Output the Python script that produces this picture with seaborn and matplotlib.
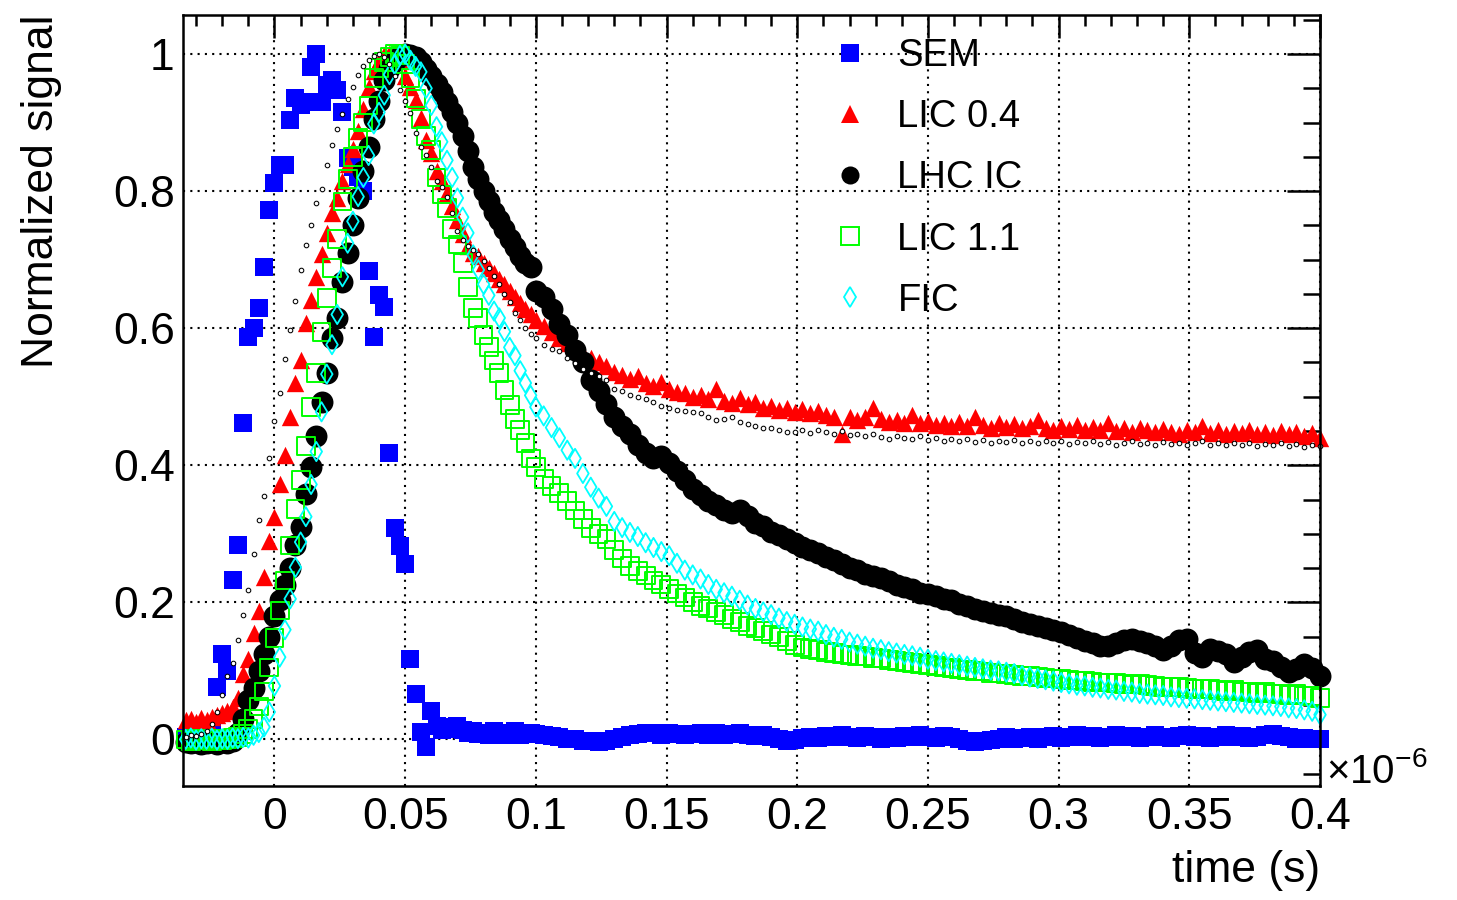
import numpy as np
import pandas as pd
import matplotlib
matplotlib.use("Agg")
import matplotlib.pyplot as plt
from matplotlib.lines import Line2D
from matplotlib.ticker import MultipleLocator, FuncFormatter
import seaborn as sns

# Sampling grid in microseconds: 2 ns steps up to 0.1 us, 3 ns steps afterwards
t_fast = np.arange(-34, 100, 2) / 1000.0
t_slow = np.arange(100, 401, 3) / 1000.0
time_us = np.concatenate([t_fast, t_slow])

sem_fast = [0.003, 0.000, 0.004, 0.002, 0.006, 0.010, 0.076, 0.124, 0.100, 0.233,
            0.284, 0.461, 0.587, 0.600, 0.630, 0.689, 0.772, 0.812, 0.838, 0.838,
            0.904, 0.936, 0.925, 0.930, 0.981, 1.000, 0.930, 0.955, 0.962, 0.947,
            0.916, 0.848, 0.835, 0.820, 0.800, 0.683, 0.587, 0.649, 0.631, 0.418,
            0.309, 0.282, 0.256, 0.118, 0.066, 0.011, -0.011, 0.042, 0.020, 0.013,
            0.018, 0.015, 0.020, 0.013, 0.010, 0.012, 0.008, 0.010, 0.006, 0.012,
            0.009, 0.007, 0.010, 0.012, 0.006, 0.008, 0.010]
sem_slow = [0.008, 0.006, 0.005, 0.003, 0.001, 0.000, -0.002, -0.003, -0.004, -0.002,
            0.001, 0.004, 0.006, 0.008, 0.010, 0.009, 0.007, 0.010, 0.008, 0.006,
            0.008, 0.010, 0.007, 0.009, 0.006, 0.008, 0.010, 0.007, 0.005, 0.006,
            0.003, 0.000, -0.002, -0.001, 0.002, 0.004, 0.002, 0.005, 0.003, 0.006,
            0.004, 0.002, 0.005, 0.003, 0.001, 0.004, 0.002, 0.005, 0.003, 0.006,
            0.004, 0.002, 0.005, 0.003, 0.000, -0.002, -0.004, -0.003, -0.001, 0.001,
            0.003, 0.000, 0.002, 0.004, 0.001, 0.003, 0.005, 0.002, 0.004, 0.006,
            0.003, 0.005, 0.002, 0.004, 0.006, 0.003, 0.005, 0.002, 0.004, 0.007,
            0.004, 0.002, 0.005, 0.007, 0.003, 0.005, 0.002, 0.004, 0.006, 0.003,
            0.005, 0.002, 0.004, 0.006, 0.008, 0.005, 0.003, 0.001, 0.002, 0.000,
            0.000]

lic04_fast = [0.028, 0.030, 0.026, 0.031, 0.028, 0.033, 0.035, 0.038, 0.042, 0.047,
              0.060, 0.095, 0.118, 0.155, 0.188, 0.237, 0.290, 0.324, 0.372, 0.415,
              0.470, 0.520, 0.553, 0.607, 0.641, 0.675, 0.708, 0.739, 0.768, 0.790,
              0.815, 0.840, 0.862, 0.888, 0.920, 0.952, 0.975, 0.990, 0.998, 1.000,
              1.000, 0.990, 0.968, 0.952, 0.933, 0.906, 0.875, 0.855, 0.830, 0.815,
              0.798, 0.778, 0.758, 0.738, 0.720, 0.710, 0.705, 0.695, 0.688, 0.680,
              0.672, 0.664, 0.655, 0.645, 0.637, 0.628, 0.620]
lic04_slow = [0.612, 0.603, 0.594, 0.585, 0.578, 0.570, 0.562, 0.556, 0.550, 0.545,
              0.536, 0.532, 0.526, 0.530, 0.520, 0.516, 0.522, 0.511, 0.507, 0.505,
              0.500, 0.503, 0.497, 0.512, 0.494, 0.491, 0.498, 0.489, 0.492, 0.484,
              0.487, 0.481, 0.484, 0.478, 0.482, 0.476, 0.479, 0.474, 0.470, 0.446,
              0.471, 0.466, 0.470, 0.484, 0.468, 0.463, 0.466, 0.462, 0.474, 0.461,
              0.464, 0.459, 0.462, 0.458, 0.463, 0.457, 0.470, 0.459, 0.455, 0.461,
              0.456, 0.460, 0.454, 0.458, 0.466, 0.455, 0.452, 0.457, 0.453, 0.459,
              0.452, 0.456, 0.451, 0.462, 0.450, 0.454, 0.449, 0.455, 0.451, 0.448,
              0.453, 0.449, 0.446, 0.452, 0.448, 0.458, 0.447, 0.451, 0.446, 0.450,
              0.447, 0.452, 0.445, 0.449, 0.444, 0.450, 0.446, 0.448, 0.443, 0.447,
              0.440]

lhcic_fast = [-0.004, -0.005, -0.004, -0.006, -0.005, -0.004, -0.006, -0.004, -0.005, -0.002,
              0.010, 0.030, 0.057, 0.075, 0.100, 0.125, 0.150, 0.180, 0.203, 0.225,
              0.250, 0.283, 0.310, 0.358, 0.398, 0.443, 0.492, 0.535, 0.585, 0.615,
              0.668, 0.710, 0.750, 0.790, 0.830, 0.864, 0.905, 0.932, 0.962, 0.978,
              0.990, 0.997, 1.000, 0.999, 0.996, 0.988, 0.978, 0.968, 0.957, 0.945,
              0.930, 0.915, 0.900, 0.880, 0.858, 0.835, 0.818, 0.800, 0.785, 0.770,
              0.758, 0.745, 0.730, 0.718, 0.705, 0.695, 0.690]
lhcic_slow = [0.655, 0.645, 0.628, 0.606, 0.590, 0.568, 0.550, 0.525, 0.508, 0.490,
              0.470, 0.458, 0.445, 0.430, 0.418, 0.410, 0.414, 0.404, 0.392, 0.378,
              0.365, 0.356, 0.348, 0.342, 0.335, 0.330, 0.334, 0.326, 0.316, 0.311,
              0.303, 0.298, 0.292, 0.286, 0.281, 0.276, 0.272, 0.266, 0.262, 0.256,
              0.250, 0.247, 0.242, 0.238, 0.236, 0.231, 0.226, 0.222, 0.219, 0.214,
              0.212, 0.209, 0.205, 0.203, 0.198, 0.194, 0.190, 0.187, 0.184, 0.181,
              0.180, 0.176, 0.172, 0.168, 0.166, 0.162, 0.160, 0.156, 0.152, 0.148,
              0.143, 0.140, 0.137, 0.136, 0.140, 0.145, 0.146, 0.144, 0.141, 0.137,
              0.130, 0.136, 0.145, 0.146, 0.126, 0.120, 0.132, 0.129, 0.125, 0.113,
              0.120, 0.128, 0.130, 0.118, 0.114, 0.106, 0.098, 0.103, 0.110, 0.104,
              0.092]

lic11_fast = [0.000, -0.002, 0.001, -0.001, 0.000, -0.002, 0.001, -0.001, 0.000, 0.002,
              0.004, 0.008, 0.015, 0.030, 0.048, 0.070, 0.105, 0.148, 0.188, 0.232,
              0.283, 0.336, 0.378, 0.428, 0.485, 0.535, 0.595, 0.644, 0.688, 0.730,
              0.785, 0.818, 0.850, 0.878, 0.900, 0.925, 0.965, 0.980, 0.988, 0.996,
              1.000, 0.998, 0.985, 0.965, 0.935, 0.905, 0.880, 0.860, 0.820, 0.795,
              0.775, 0.745, 0.722, 0.695, 0.660, 0.630, 0.615, 0.590, 0.572, 0.553,
              0.535, 0.510, 0.488, 0.468, 0.452, 0.432, 0.410]
lic11_slow = [0.398, 0.380, 0.370, 0.360, 0.348, 0.334, 0.322, 0.308, 0.300, 0.292,
              0.276, 0.264, 0.253, 0.246, 0.239, 0.232, 0.226, 0.220, 0.213, 0.207,
              0.200, 0.195, 0.191, 0.186, 0.182, 0.176, 0.171, 0.166, 0.162, 0.158,
              0.153, 0.149, 0.144, 0.138, 0.134, 0.132, 0.130, 0.128, 0.126, 0.124,
              0.123, 0.122, 0.121, 0.119, 0.118, 0.116, 0.114, 0.113, 0.111, 0.110,
              0.108, 0.107, 0.105, 0.104, 0.102, 0.101, 0.100, 0.099, 0.097, 0.096,
              0.095, 0.094, 0.093, 0.092, 0.091, 0.090, 0.089, 0.088, 0.087, 0.086,
              0.085, 0.084, 0.083, 0.083, 0.082, 0.081, 0.080, 0.081, 0.079, 0.078,
              0.077, 0.076, 0.077, 0.075, 0.074, 0.073, 0.074, 0.072, 0.071, 0.072,
              0.070, 0.069, 0.068, 0.069, 0.067, 0.066, 0.065, 0.066, 0.064, 0.063,
              0.060]

fic_fast = [0.000, 0.002, -0.001, 0.001, 0.000, 0.002, -0.001, 0.001, 0.000, 0.002,
            0.001, 0.003, 0.002, 0.006, 0.010, 0.018, 0.040, 0.078, 0.120, 0.160,
            0.205, 0.251, 0.288, 0.325, 0.372, 0.420, 0.478, 0.533, 0.576, 0.620,
            0.675, 0.724, 0.756, 0.792, 0.820, 0.852, 0.898, 0.915, 0.940, 0.970,
            0.985, 0.998, 1.000, 0.991, 0.982, 0.974, 0.950, 0.925, 0.894, 0.872,
            0.845, 0.820, 0.790, 0.762, 0.739, 0.707, 0.685, 0.664, 0.648, 0.625,
            0.615, 0.595, 0.572, 0.560, 0.538, 0.520, 0.502]
fic_slow = [0.485, 0.472, 0.455, 0.440, 0.422, 0.410, 0.388, 0.368, 0.352, 0.340,
            0.318, 0.309, 0.302, 0.296, 0.287, 0.280, 0.274, 0.268, 0.257, 0.247,
            0.240, 0.234, 0.226, 0.219, 0.214, 0.209, 0.203, 0.196, 0.191, 0.186,
            0.182, 0.177, 0.172, 0.168, 0.164, 0.161, 0.158, 0.153, 0.149, 0.146,
            0.142, 0.139, 0.136, 0.133, 0.131, 0.128, 0.126, 0.124, 0.122, 0.120,
            0.117, 0.115, 0.113, 0.111, 0.109, 0.107, 0.105, 0.103, 0.101, 0.100,
            0.098, 0.096, 0.093, 0.091, 0.089, 0.087, 0.085, 0.083, 0.081, 0.079,
            0.078, 0.076, 0.075, 0.073, 0.072, 0.070, 0.069, 0.067, 0.066, 0.065,
            0.064, 0.062, 0.061, 0.060, 0.059, 0.058, 0.057, 0.056, 0.055, 0.054,
            0.053, 0.052, 0.051, 0.050, 0.049, 0.048, 0.046, 0.045, 0.043, 0.041,
            0.036]

# reference trace drawn as small open dots (no legend entry)
ref_fast = [0.004, 0.006, 0.005, 0.008, 0.012, 0.022, 0.040, 0.065, 0.092, 0.112,
            0.145, 0.182, 0.218, 0.270, 0.320, 0.355, 0.410, 0.465, 0.505, 0.555,
            0.598, 0.640, 0.685, 0.722, 0.750, 0.782, 0.803, 0.838, 0.868, 0.890,
            0.912, 0.935, 0.952, 0.970, 0.982, 0.991, 0.997, 1.000, 0.995, 0.985,
            0.968, 0.948, 0.932, 0.914, 0.885, 0.865, 0.852, 0.835, 0.815, 0.806,
            0.792, 0.768, 0.742, 0.728, 0.720, 0.714, 0.708, 0.698, 0.688, 0.676,
            0.664, 0.650, 0.638, 0.622, 0.612, 0.600, 0.592]
ref_slow = [0.585, 0.576, 0.570, 0.566, 0.556, 0.549, 0.540, 0.535, 0.530, 0.524,
            0.512, 0.508, 0.502, 0.499, 0.496, 0.492, 0.487, 0.484, 0.481, 0.479,
            0.478, 0.476, 0.471, 0.466, 0.468, 0.470, 0.463, 0.460, 0.457, 0.455,
            0.454, 0.452, 0.449, 0.448, 0.451, 0.447, 0.452, 0.449, 0.446, 0.450,
            0.444, 0.446, 0.442, 0.445, 0.441, 0.439, 0.443, 0.440, 0.438, 0.442,
            0.437, 0.440, 0.436, 0.439, 0.435, 0.438, 0.434, 0.437, 0.433, 0.436,
            0.434, 0.437, 0.433, 0.436, 0.432, 0.435, 0.433, 0.436, 0.431, 0.434,
            0.432, 0.435, 0.431, 0.434, 0.430, 0.433, 0.436, 0.431, 0.433, 0.430,
            0.434, 0.431, 0.433, 0.429, 0.432, 0.435, 0.430, 0.433, 0.429, 0.432,
            0.430, 0.433, 0.428, 0.431, 0.429, 0.432, 0.428, 0.431, 0.427, 0.430,
            0.428]

series_names = ["SEM", "LIC 0.4", "LHC IC", "LIC 1.1", "FIC"]
series_values = {
    "SEM": sem_fast + sem_slow,
    "LIC 0.4": lic04_fast + lic04_slow,
    "LHC IC": lhcic_fast + lhcic_slow,
    "LIC 1.1": lic11_fast + lic11_slow,
    "FIC": fic_fast + fic_slow,
}
ref_values = ref_fast + ref_slow

x_ticks = [0, 0.05, 0.1, 0.15, 0.2, 0.25, 0.3, 0.35, 0.4]
y_ticks = [0, 0.2, 0.4, 0.6, 0.8, 1.0]

# marker styles: (marker, size in pt, face, edge, edge width)
styles = {
    "SEM":     ("s", 13.0, "#0000ff", "#0000ff", 0.0),
    "LIC 0.4": ("^", 12.5, "#ff0000", "#ff0000", 0.0),
    "LHC IC":  ("o", 15.8, "#000000", "#000000", 0.0),
    "LIC 1.1": ("s", 12.8, "none", "#00ff00", 1.4),
    "FIC":     ("d", 9.8, "none", "#00ffff", 1.3),
}

sns.set_theme(style="white")
plt.rcParams["font.family"] = ["Liberation Sans", "DejaVu Sans"]
plt.rcParams["mathtext.fontset"] = "custom"
plt.rcParams["mathtext.rm"] = "Liberation Sans"
plt.rcParams["mathtext.it"] = "Liberation Sans:italic"

fig = plt.figure(figsize=(14.57, 9.0), dpi=100)
ax = fig.add_axes([183 / 1457, 1 - 786 / 900, (1320 - 183) / 1457, (786 - 15) / 900])

for name in series_names:
    marker, ms, fc, ec, lw = styles[name]
    df = pd.DataFrame({"time": time_us, "signal": series_values[name]})
    sns.scatterplot(data=df, x="time", y="signal", ax=ax, marker=marker, s=ms ** 2,
                    facecolor=fc, edgecolor=ec, linewidth=lw, clip_on=False,
                    legend=False, zorder=3)

df_ref = pd.DataFrame({"time": time_us, "signal": ref_values})
sns.scatterplot(data=df_ref, x="time", y="signal", ax=ax, marker="o", s=3.3 ** 2,
                facecolor="white", edgecolor="black", linewidth=0.75, clip_on=False,
                legend=False, zorder=4)

ax.set_xlim(-0.035, 0.4)
ax.set_ylim(-0.068, 1.057)

ax.xaxis.set_minor_locator(MultipleLocator(0.01))
ax.yaxis.set_minor_locator(MultipleLocator(0.05))
ax.set_xticks(x_ticks)
ax.set_yticks(y_ticks)
fmt = FuncFormatter(lambda v, pos: f"{v:g}")
ax.xaxis.set_major_formatter(fmt)
ax.yaxis.set_major_formatter(fmt)

ax.tick_params(which="both", direction="in", top=True, right=True,
               width=1.8, color="black", labelsize=32, labelcolor="black")
ax.tick_params(axis="y", which="major", length=24, pad=6)
ax.tick_params(axis="y", which="minor", length=12)
ax.tick_params(axis="x", which="major", length=16.5, pad=8)
ax.tick_params(axis="x", which="minor", length=8)

for sp in ax.spines.values():
    sp.set_visible(True)
    sp.set_color("black")
    sp.set_linewidth(1.8)
    sp.set_zorder(5)

ax.grid(True, which="major", color="black", linestyle=(0, (1, 2.5)), linewidth=1.5)
ax.set_axisbelow(True)

ax.set_ylabel("Normalized signal", loc="top", fontsize=32, color="black")
ax.yaxis.set_label_coords(-0.106, 1.0)
ax.set_xlabel("time (s)", loc="right", fontsize=32, color="black")
ax.xaxis.set_label_coords(1.0, -0.083)

ax.text(1.0 + 6 / 1137, 0.004, r"$\mathregular{\times10^{-6}}$", transform=ax.transAxes,
        ha="left", va="baseline", fontsize=29, color="black")

handles = []
for name in series_names:
    marker, ms, fc, ec, lw = styles[name]
    lms = {"s": 13, "^": 13.5, "o": 13, "d": 10.5}[marker]
    handles.append(Line2D([], [], linestyle="", marker=marker, markersize=lms,
                          markerfacecolor=fc, markeredgecolor=ec,
                          markeredgewidth=lw if lw > 0 else 0.0, label=name))
leg = ax.legend(handles=handles, loc="upper left",
                bbox_to_anchor=(831 / 1457, 1 - 38 / 900), bbox_transform=fig.transFigure,
                frameon=False, fontsize=27.5, handlelength=1.0, handletextpad=0.74,
                labelspacing=0.66, borderpad=0, borderaxespad=0)
for txt in leg.get_texts():
    txt.set_color("black")

fig.savefig("out.png", dpi=100, facecolor="white")
